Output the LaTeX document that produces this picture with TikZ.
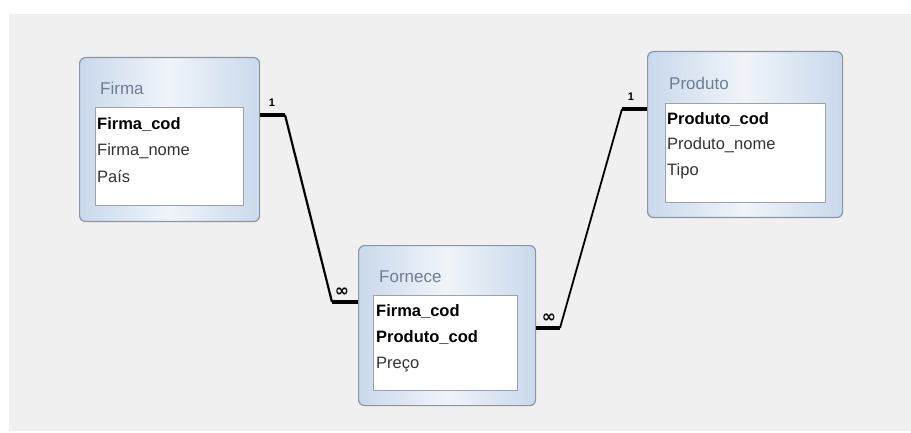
\documentclass[tikz,border=0pt]{standalone}
\usepackage{fontspec}
\setmainfont{Liberation Sans}
\newfontfamily\symfont{DejaVu Sans}
\usetikzlibrary{calc}
\definecolor{bgc}{HTML}{F0F0F0}
\definecolor{frame}{HTML}{8A96A3}
\definecolor{edgeblue}{HTML}{C9D9EC}
\definecolor{midblue}{HTML}{F0F4F9}
\definecolor{titlec}{HTML}{6E7F92}
\definecolor{fieldc}{HTML}{333333}
\definecolor{innerline}{HTML}{9AA3AC}
\tikzset{
  tablebox/.style={draw=frame, line width=1.2pt, rounded corners=6pt,
    left color=edgeblue, right color=edgeblue, middle color=midblue,
    anchor=north west, inner sep=0pt},
  innerbox/.style={draw=innerline, line width=0.8pt, fill=white},
  ttl/.style={anchor=west, text=titlec, font=\fontsize{17}{18}\selectfont, inner sep=0pt},
  fld/.style={anchor=west, text=fieldc, font=\fontsize{16.5}{18}\selectfont, inner sep=0pt},
  key/.style={anchor=west, text=black, font=\fontsize{16.5}{18}\selectfont\bfseries, inner sep=0pt},
  rel/.style={line width=2.2pt, black, line join=miter},
  relend/.style={line width=3.6pt, black},
  card/.style={font=\fontsize{11}{12}\selectfont\bfseries, inner sep=0pt},
  inf/.style={font=\symfont\fontsize{17}{17}\selectfont\bfseries, inner sep=0pt}
}
\begin{document}
\begin{tikzpicture}[x=1pt,y=-1pt]
\useasboundingbox (0,0) rectangle (911,433);
\fill[white] (0,0) rectangle (911,433);
\fill[bgc] (9,14) rectangle (911,431);

% Firma
\node[tablebox, minimum width=180pt, minimum height=164pt] (firma) at (79,57) {};
\draw[innerbox] (95,107) rectangle (243,205);
\node[ttl] (firmaT) at (100,88) {Firma};
\node[key] (f1) at (97,125) {Firma\_cod};
\node[fld] (f2) at (97,151) {Firma\_nome};
\node[fld] (f3) at (97,177) {País};

% Fornece
\node[tablebox, minimum width=177pt, minimum height=160pt] (fornece) at (358,245) {};
\draw[innerbox] (373,295) rectangle (517,390);
\node[ttl] (fornT) at (379,277) {Fornece};
\node[key] (g1) at (376,312) {Firma\_cod};
\node[key] (g2) at (376,338) {Produto\_cod};
\node[fld] (g3) at (376,365) {Preço};

% Produto
\node[tablebox, minimum width=195pt, minimum height=166pt] (produto) at (647,51) {};
\draw[innerbox] (665,103) rectangle (825,202);
\node[ttl] (prodT) at (669,83) {Produto};
\node[key] (p1) at (667,120) {Produto\_cod};
\node[fld] (p2) at (667,145) {Produto\_nome};
\node[fld] (p3) at (667,171) {Tipo};

% relationship Firma - Fornece
\coordinate (a1) at (285,115);
\coordinate (a2) at (332,302);
\draw[relend] (firma.east |- 0,115) -- (a1);
\draw[rel] (a1) -- (a2);
\draw[relend] (a2) -- (fornece.west |- 0,302);
\node[card] (c1) at (272,103) {1};
\node[inf] (c2) at (342,292) {∞};

% relationship Fornece - Produto
\coordinate (b1) at (560,328);
\coordinate (b2) at (622,109);
\draw[relend] (fornece.east |- 0,328) -- (b1);
\draw[rel, line width=1.8pt] (b1) -- (b2);
\draw[relend] (b2) -- (produto.west |- 0,109);
\node[card] (c3) at (631,97) {1};
\node[inf] (c4) at (549,318) {∞};
\end{tikzpicture}
\end{document}
